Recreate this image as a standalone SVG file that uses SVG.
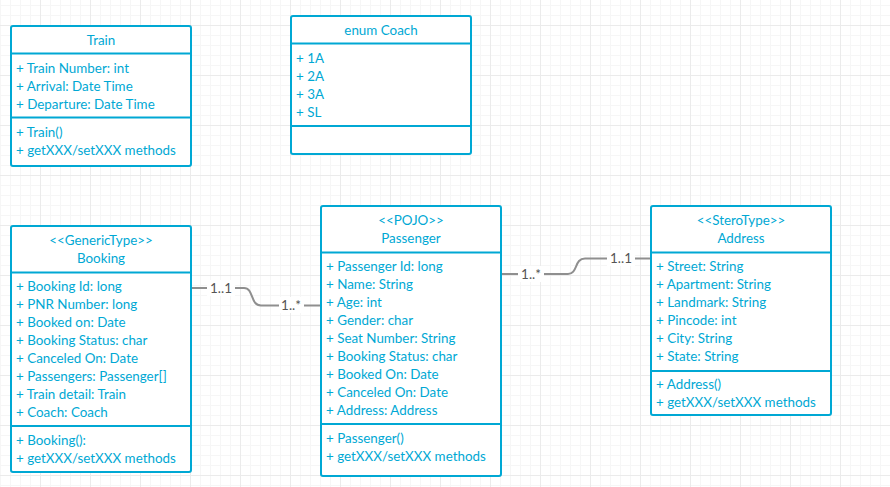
<svg xmlns="http://www.w3.org/2000/svg" width="890" height="487" viewBox="0 0 890 487">
<defs>
<pattern id="minor" x="0" y="5" width="10" height="10" patternUnits="userSpaceOnUse">
<path d="M0.5,0 V10 M0,0.5 H10" stroke="#f6f6f6" stroke-width="1" fill="none"/>
</pattern>
<pattern id="major" x="40" y="25" width="50" height="50" patternUnits="userSpaceOnUse">
<path d="M0.5,0 V50 M0,0.5 H50" stroke="#ebebeb" stroke-width="1" fill="none"/>
</pattern>
</defs>
<style>
.box{fill:#ffffff;stroke:#00a8d4;stroke-width:2}
.div{stroke:#00a8d4;stroke-width:2}
text{font-family:Lato,"Liberation Sans",sans-serif;font-size:13.4px;fill:#00a8d4}
.c{text-anchor:middle}
.conn{fill:none;stroke:#8f8f8f;stroke-width:2}
.lbl{fill:#555555;text-anchor:middle}
.lblbg{fill:#ffffff}
</style>
<rect width="890" height="487" fill="#ffffff"/>
<rect width="890" height="487" fill="url(#minor)"/>
<rect width="890" height="487" fill="url(#major)"/>

<g id="connectors">
<path class="conn" d="M191,288 H244 C254,288 250,305.5 261,305.5 H321"/>
<rect class="lblbg" x="207" y="280" width="28" height="16"/>
<text class="lbl" x="221" y="292.5">1..1</text>
<rect class="lblbg" x="279" y="297" width="25" height="16"/>
<text class="lbl" x="291" y="310">1..*</text>
<path class="conn" d="M501,274 H568 C578,274 574,258.5 585,258.5 H651"/>
<rect class="lblbg" x="518" y="266" width="26" height="16"/>
<text class="lbl" x="531" y="278.5">1..*</text>
<rect class="lblbg" x="607" y="250" width="28" height="16"/>
<text class="lbl" x="621" y="263">1..1</text>
</g>

<g id="train">
<rect class="box" x="11" y="26" width="180" height="140" rx="2"/>
<line class="div" x1="11" y1="53.5" x2="191" y2="53.5"/>
<line class="div" x1="11" y1="117.5" x2="191" y2="117.5"/>
<text class="c" x="101" y="44.5">Train</text>
<text x="16" y="73">+ Train Number: int</text>
<text x="16" y="91">+ Arrival: Date Time</text>
<text x="16" y="109">+ Departure: Date Time</text>
<text x="16" y="137">+ Train()</text>
<text x="16" y="155">+ getXXX/setXXX methods</text>
</g>

<g id="coach">
<rect class="box" x="291" y="16" width="180" height="138" rx="2"/>
<line class="div" x1="291" y1="43.5" x2="471" y2="43.5"/>
<line class="div" x1="291" y1="126" x2="471" y2="126"/>
<text class="c" x="381" y="35">enum Coach</text>
<text x="296" y="63">+ 1A</text>
<text x="296" y="81">+ 2A</text>
<text x="296" y="99">+ 3A</text>
<text x="296" y="117">+ SL</text>
</g>

<g id="booking">
<rect class="box" x="11" y="226" width="180" height="246" rx="2"/>
<line class="div" x1="11" y1="272.5" x2="191" y2="272.5"/>
<line class="div" x1="11" y1="426" x2="191" y2="426"/>
<text class="c" x="101" y="245">&lt;&lt;GenericType&gt;&gt;</text>
<text class="c" x="101" y="263">Booking</text>
<text x="16" y="290.5">+ Booking Id: long</text>
<text x="16" y="308.5">+ PNR Number: long</text>
<text x="16" y="326.5">+ Booked on: Date</text>
<text x="16" y="344.5">+ Booking Status: char</text>
<text x="16" y="362.5">+ Canceled On: Date</text>
<text x="16" y="380.5">+ Passengers: Passenger[]</text>
<text x="16" y="398.5">+ Train detail: Train</text>
<text x="16" y="416.5">+ Coach: Coach</text>
<text x="16" y="444.5">+ Booking():</text>
<text x="16" y="462.5">+ getXXX/setXXX methods</text>
</g>

<g id="passenger">
<rect class="box" x="321" y="206" width="180" height="270" rx="2"/>
<line class="div" x1="321" y1="252.5" x2="501" y2="252.5"/>
<line class="div" x1="321" y1="424" x2="501" y2="424"/>
<text class="c" x="411" y="225">&lt;&lt;POJO&gt;&gt;</text>
<text class="c" x="411" y="243">Passenger</text>
<text x="326" y="271">+ Passenger Id: long</text>
<text x="326" y="289">+ Name: String</text>
<text x="326" y="307">+ Age: int</text>
<text x="326" y="325">+ Gender: char</text>
<text x="326" y="343">+ Seat Number: String</text>
<text x="326" y="361">+ Booking Status: char</text>
<text x="326" y="379">+ Booked On: Date</text>
<text x="326" y="397">+ Canceled On: Date</text>
<text x="326" y="415">+ Address: Address</text>
<text x="326" y="443">+ Passenger()</text>
<text x="326" y="461">+ getXXX/setXXX methods</text>
</g>

<g id="address">
<rect class="box" x="651" y="206" width="180" height="209" rx="2"/>
<line class="div" x1="651" y1="252.5" x2="831" y2="252.5"/>
<line class="div" x1="651" y1="371" x2="831" y2="371"/>
<text class="c" x="741" y="225">&lt;&lt;SteroType&gt;&gt;</text>
<text class="c" x="741" y="243">Address</text>
<text x="656" y="271">+ Street: String</text>
<text x="656" y="289">+ Apartment: String</text>
<text x="656" y="307">+ Landmark: String</text>
<text x="656" y="325">+ Pincode: int</text>
<text x="656" y="343">+ City: String</text>
<text x="656" y="361">+ State: String</text>
<text x="656" y="389">+ Address()</text>
<text x="656" y="407">+ getXXX/setXXX methods</text>
</g>
</svg>
